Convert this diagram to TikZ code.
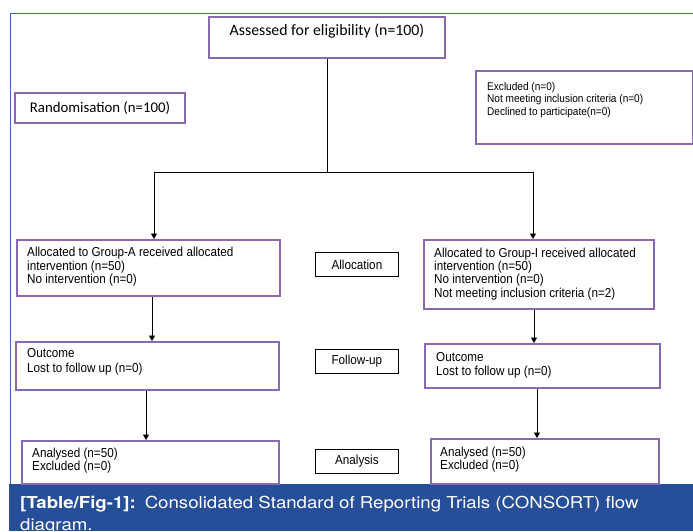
\documentclass[tikz,border=0pt]{standalone}
\usepackage{fontspec}
\setmainfont{Liberation Sans}
\newfontfamily\arialc[FakeStretch=0.9]{Liberation Sans}
\newfontfamily\calib{Carlito}
\newfontfamily\capf[FakeStretch=1.13]{TeX Gyre Heros}
\usetikzlibrary{arrows.meta}
\definecolor{pur}{RGB}{138,104,178}
\definecolor{frameblue}{RGB}{60,105,190}
\definecolor{band}{RGB}{38,78,153}
\begin{document}
\begin{tikzpicture}[x=1pt,y=-1pt,
 pbox/.style={draw=pur,line width=2pt,rectangle,inner sep=0pt,anchor=north west},
 lbox/.style={draw=black,line width=0.8pt,rectangle,inner sep=0pt,anchor=north west,font=\arialc\fontsize{13}{15}\selectfont},
 txt/.style={inner sep=0pt,anchor=north west,align=left,font=\arialc\fontsize{13}{13.3}\selectfont},
 conn/.style={line width=0.8pt,draw=black},
 arr/.style={conn,-{Triangle[width=6pt,length=5.5pt]}}]
\useasboundingbox (0,0) rectangle (693,531);
\fill[white] (0,0) rectangle (693,531);
\fill[band] (9,484) rectangle (693,531);
\draw[frameblue,line width=1pt] (10,484) -- (10,13.5) -- (700,13.5);

% boxes
\node[pbox,minimum width=236pt,minimum height=41pt] (assess) at (208,16) {};
\node[anchor=base,inner sep=0pt,font=\calib\fontsize{15.8}{18}\selectfont] (assesst) at (327,35) {Assessed for eligibility (n=100)};
\node[pbox,minimum width=170pt,minimum height=30pt,font=\calib\fontsize{14.8}{17}\selectfont] (rand) at (14,92) {Randomisation (n=100)};
\node[pbox,minimum width=217pt,minimum height=73pt] (excl) at (475,70) {};
\node[txt,font=\arialc\fontsize{11.2}{12.5}\selectfont] (exclt) at (487,81) {\rule{0pt}{9pt}Excluded (n=0)\\Not meeting inclusion criteria (n=0)\\Declined to participate(n=0)};

\node[pbox,minimum width=263pt,minimum height=56pt] (alA) at (16,239) {};
\node[txt] (alAt) at (27,246.5) {\rule{0pt}{10pt}Allocated to Group-A received allocated\\intervention (n=50)\\No intervention (n=0)};
\node[pbox,minimum width=230pt,minimum height=69pt] (alI) at (423,239) {};
\node[txt] (alIt) at (434,247) {\rule{0pt}{10pt}Allocated to Group-I received allocated\\intervention (n=50)\\No intervention (n=0)\\Not meeting inclusion criteria (n=2)};

\node[pbox,minimum width=263pt,minimum height=48pt] (fuA) at (15,341) {};
\node[txt,font=\arialc\fontsize{13}{15}\selectfont] (fuAt) at (27,347) {\rule{0pt}{10pt}Outcome\\Lost to follow up (n=0)};
\node[pbox,minimum width=235pt,minimum height=44pt] (fuI) at (424,343) {};
\node[txt,font=\arialc\fontsize{13}{14}\selectfont] (fuIt) at (436,351) {\rule{0pt}{10pt}Outcome\\Lost to follow up (n=0)};

\node[pbox,minimum width=257pt,minimum height=43pt] (anA) at (21,440) {};
\node[txt,font=\arialc\fontsize{13}{13.7}\selectfont] (anAt) at (32,447) {\rule{0pt}{10pt}Analysed (n=50)\\Excluded (n=0)};
\node[pbox,minimum width=228pt,minimum height=45pt] (anI) at (430,438) {};
\node[txt,font=\arialc\fontsize{13}{13.3}\selectfont] (anIt) at (440,446) {\rule{0pt}{10pt}Analysed (n=50)\\Excluded (n=0)};

% stage labels
\node[lbox,minimum width=83pt,minimum height=24pt] (lalloc) at (315,252) {Allocation};
\node[lbox,minimum width=83pt,minimum height=24pt] (lfollow) at (315,349) {Follow-up};
\node[lbox,minimum width=83pt,minimum height=24pt] (lanal) at (315,449) {Analysis};

% connectors
\coordinate (jl) at (154,172);
\coordinate (jr) at (533,172);
\coordinate (jm) at (assess.south |- jl);
\draw[conn] (assess.south) -- (jm);
\draw[conn] (jl) -- (jr);
\draw[arr] (jl) -- (jl |- alA.north);
\draw[arr] (jr) -- (jr |- alI.north);
\coordinate (xa1) at (152,0);
\coordinate (xa2) at (146,0);
\coordinate (xb1) at (534,0);
\coordinate (xb2) at (537,0);
\draw[arr] (alA.south -| xa1) -- (fuA.north -| xa1);
\draw[arr] (fuA.south -| xa2) -- (anA.north -| xa2);
\draw[arr] (alI.south -| xb1) -- (fuI.north -| xb1);
\draw[arr] (fuI.south -| xb2) -- (anI.north -| xb2);

% caption
\node[inner sep=0pt,anchor=north west,align=left,text=white,font=\capf\fontsize{16.5}{22}\selectfont] (cap) at (20,496) {\rule{0pt}{12pt}\textbf{[Table/Fig-1]:}\hspace{2pt} Consolidated Standard of Reporting Trials (CONSORT) flow\\diagram.};
\end{tikzpicture}
\end{document}
